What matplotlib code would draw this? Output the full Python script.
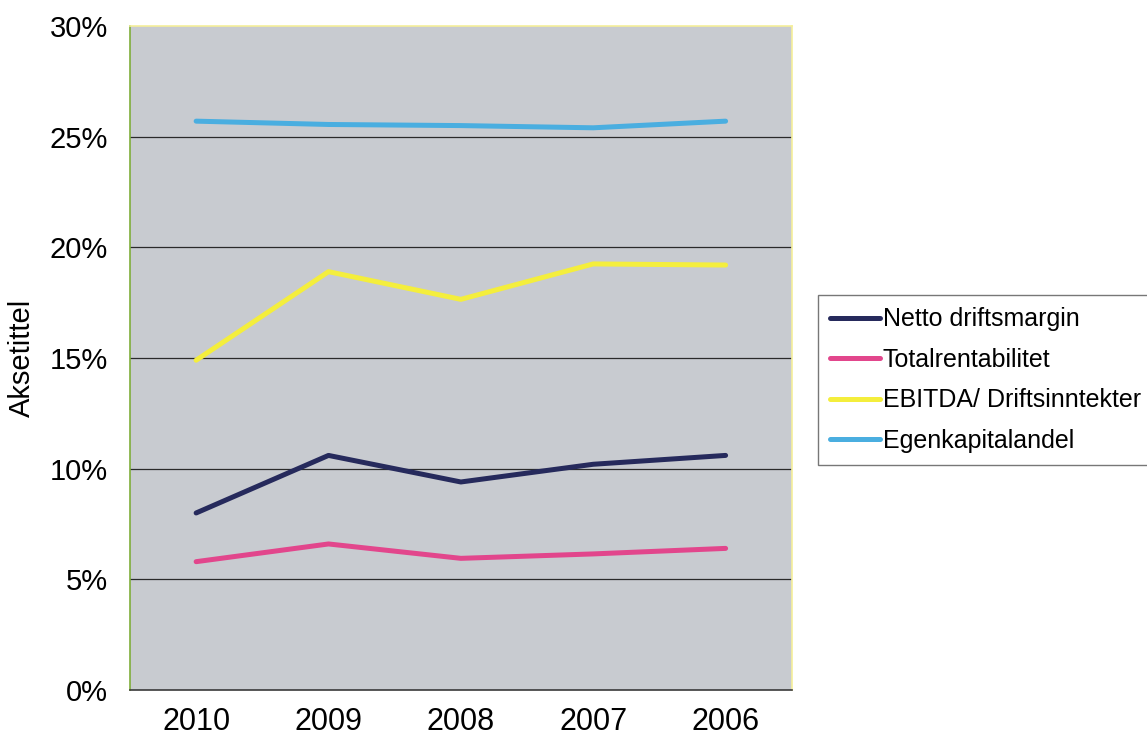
import numpy as np
import matplotlib.pyplot as plt

plt.rcParams['font.family'] = ['Liberation Sans', 'DejaVu Sans']

# key figures per year (share, in %)
years = ["2010", "2009", "2008", "2007", "2006"]
netto_driftsmargin = [8.0, 10.6, 9.4, 10.2, 10.6]
totalrentabilitet = [5.8, 6.6, 5.95, 6.15, 6.4]
ebitda_driftsinntekter = [14.9, 18.9, 17.65, 19.25, 19.2]
egenkapitalandel = [25.7, 25.55, 25.5, 25.4, 25.7]

series = [
    ("Netto driftsmargin", netto_driftsmargin, "#262a5c"),
    ("Totalrentabilitet", totalrentabilitet, "#e2468c"),
    ("EBITDA/ Driftsinntekter", ebitda_driftsinntekter, "#f4ee3c"),
    ("Egenkapitalandel", egenkapitalandel, "#4aaee0"),
]

fig = plt.figure(figsize=(11.47, 7.42), dpi=100)
ax = fig.add_axes([0.1133, 0.07, 0.577, 0.895])
ax.set_facecolor("#c8cbd0")

x = np.arange(len(years))
for name, vals, col in series:
    ax.plot(x, vals, color=col, lw=3.6, label=name, solid_capstyle="round")

ax.set_xlim(-0.5, len(years) - 0.5)
ax.set_ylim(0, 30)
ax.set_xticks(x)
ax.set_xticklabels(years)
ax.set_yticks(range(0, 31, 5))
ax.set_yticklabels([f"{v}%" for v in range(0, 31, 5)])
ax.tick_params(length=0)
ax.tick_params(axis="y", pad=16, labelsize=21)
ax.tick_params(axis="x", pad=12, labelsize=22)

for v in range(5, 30, 5):
    ax.axhline(v, color="#2a2a2a", lw=0.9, zorder=1)

ax.spines["left"].set_color("#7fae3a")
ax.spines["top"].set_color("#f5ef9a")
ax.spines["right"].set_color("#f5ef9a")
ax.spines["bottom"].set_color("#3a3a3a")
for s in ax.spines.values():
    s.set_linewidth(1.2)

ax.set_ylabel("Aksetittel", fontsize=21, labelpad=10)

leg = ax.legend(loc="upper left", bbox_to_anchor=(0.713, 0.6025),
                bbox_transform=fig.transFigure, fontsize=18,
                frameon=True, fancybox=False, edgecolor="#555555",
                handlelength=2.0, handletextpad=0.1, labelspacing=0.66,
                borderpad=0.5, borderaxespad=0)
leg.get_frame().set_linewidth(1.0)
for line in leg.get_lines():
    line.set_linewidth(3.6)

fig.savefig("out.png", dpi=100)
